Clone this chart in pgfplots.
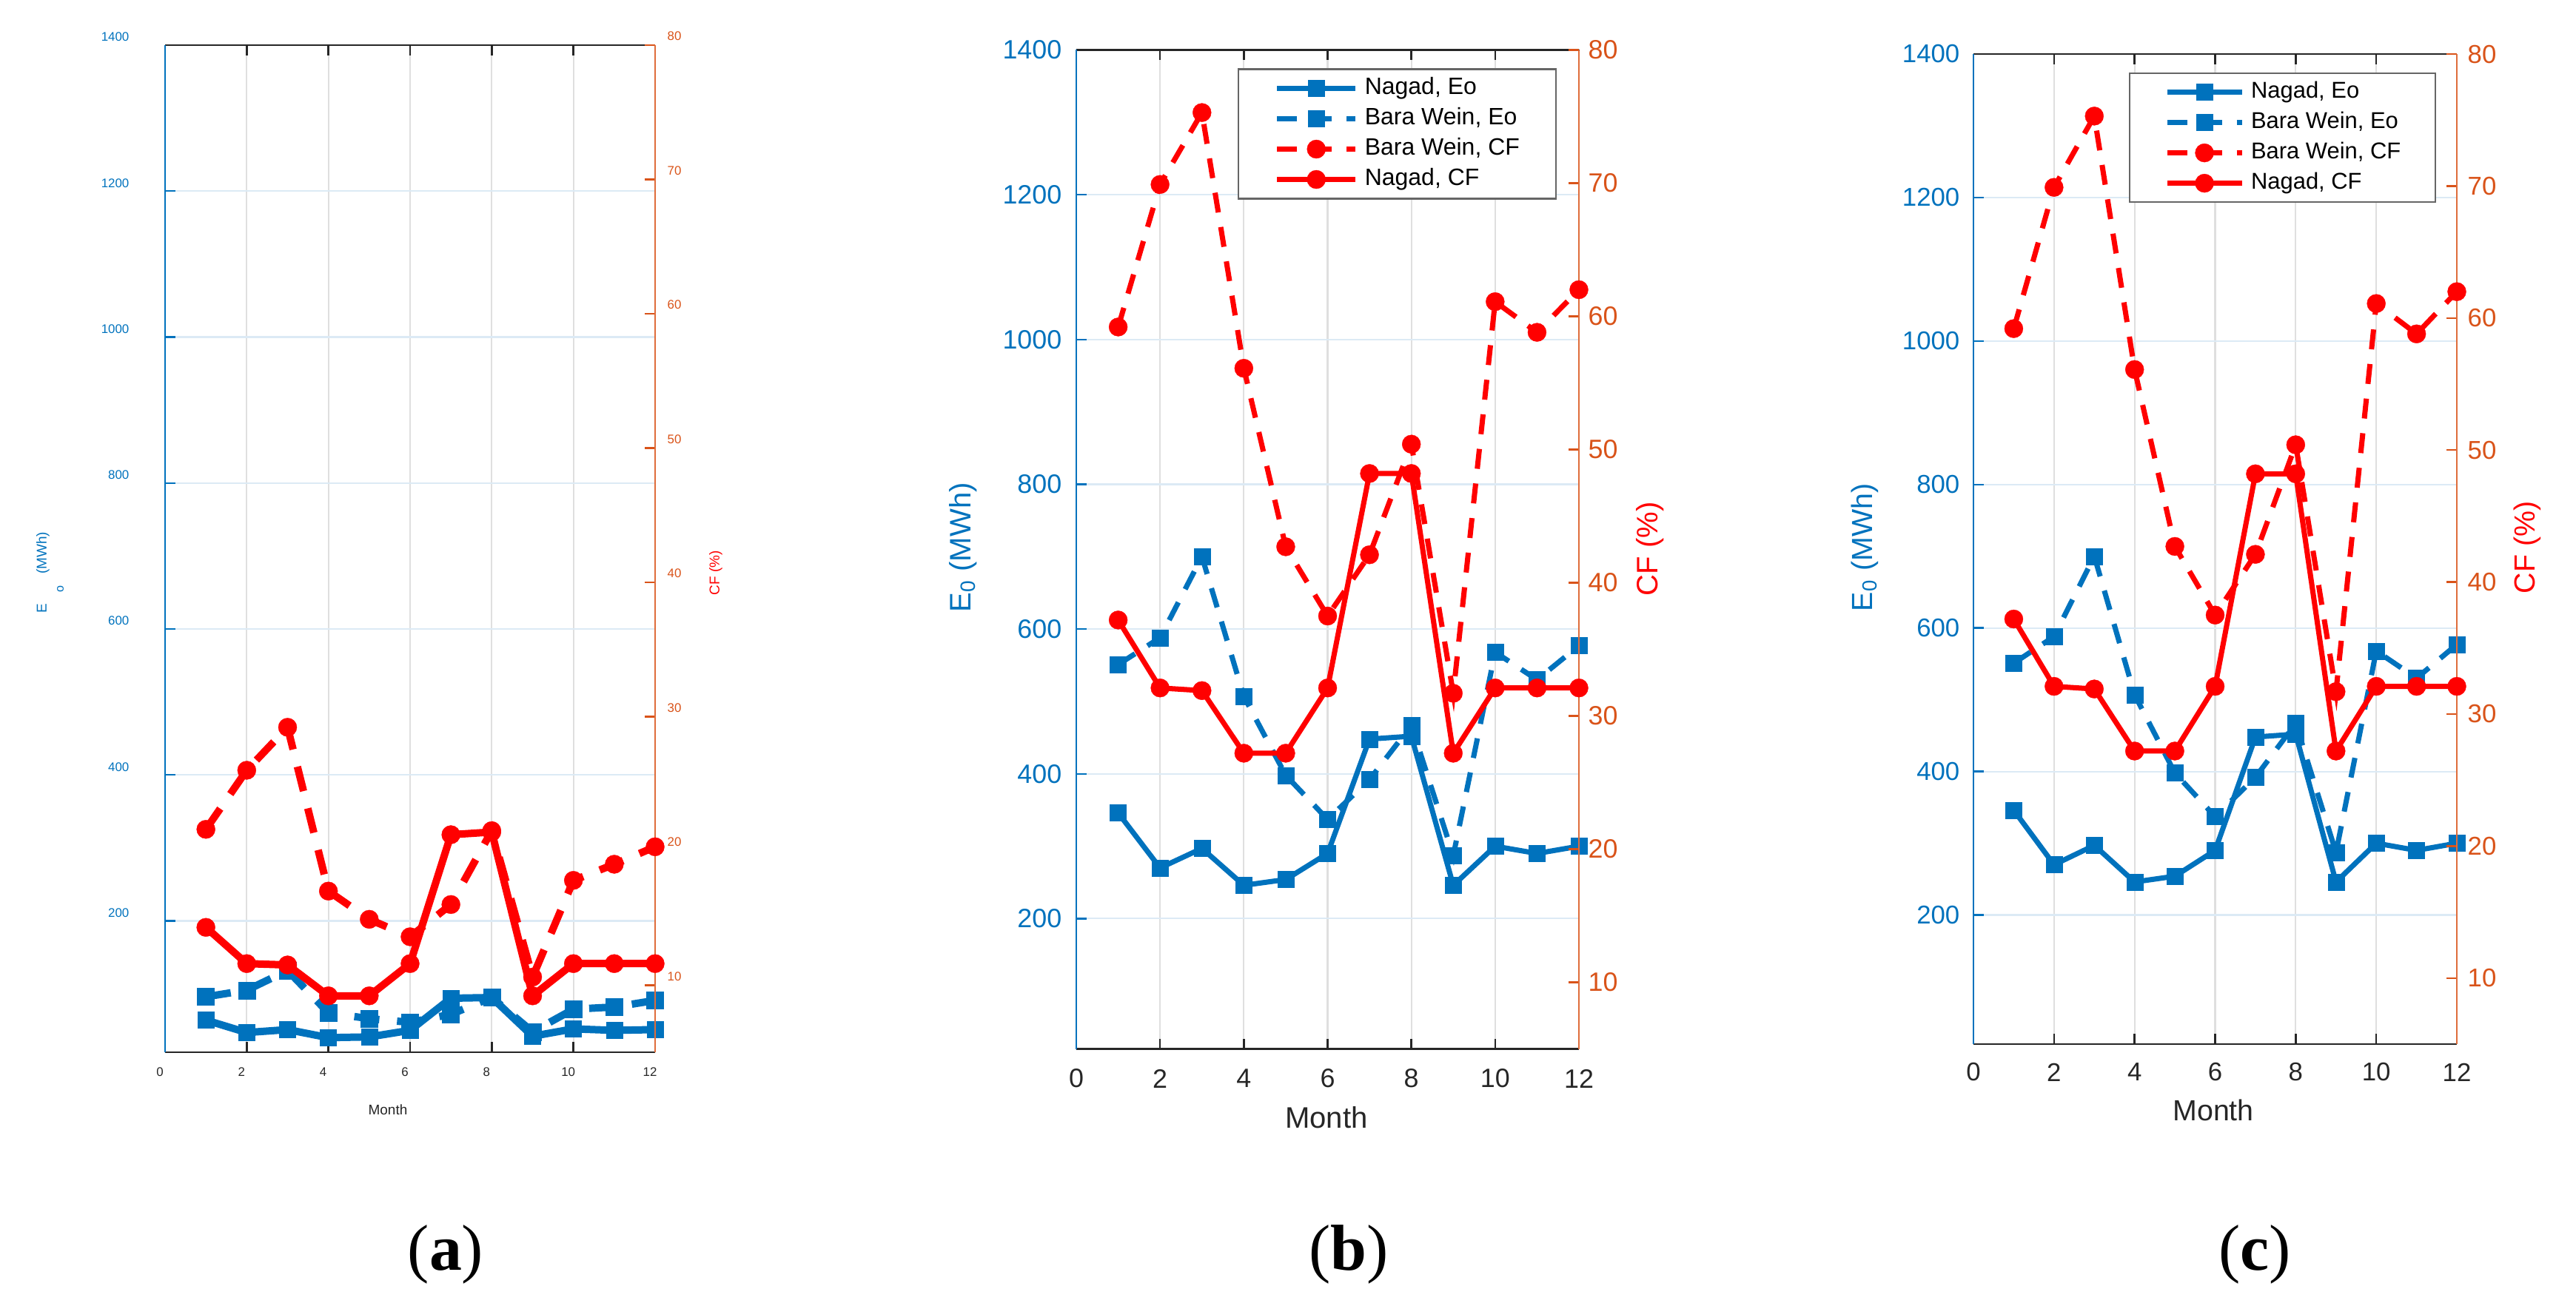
\documentclass[border=0pt]{standalone}
\usepackage{fontspec}
\setmainfont{Liberation Sans}
\newfontfamily\capfont{Liberation Serif}
\usepackage{pgfplots}
\usepackage{pgfplotstable}
\pgfplotsset{compat=1.18}

\definecolor{mblue}{HTML}{0072BD}
\definecolor{morange}{HTML}{D95319}
\definecolor{mred}{HTML}{FF0000}
\definecolor{mdark}{HTML}{262626}
\definecolor{gridgray}{HTML}{DFDFDF}
\definecolor{gridblue}{HTML}{DCEAF5}

% panel (a)
\pgfplotstableread{
m NE BE BC NC
1 64 96 21.6 14.3
2 47 105 26.0 11.6
3 51 132 29.2 11.5
4 40 74 17.0 9.2
5 41 66 14.9 9.2
6 50 61 13.6 11.6
7 94 72 16.0 21.2
8 95 95 21.5 21.4
9 42 48 10.6 9.2
10 52 79 17.8 11.6
11 50 82 19.0 11.6
12 51 91 20.3 11.6
}\dataa

% panels (b) and (c)
\pgfplotstableread{
m NE BE BC NC
1 346 551 59.2 37.2
2 270 588 69.9 32.1
3 297 700 75.3 31.9
4 246 507 56.1 27.2
5 254 398 42.7 27.2
6 290 337 37.5 32.1
7 448 392 42.1 48.2
8 452 467 50.4 48.2
9 246 287 31.7 27.2
10 300 568 61.1 32.1
11 290 530 58.8 32.1
12 300 577 62.0 32.1
}\datab

\tikzset{
 sNE/.style={mblue, solid, line width=#1, mark=square*, mark size=1.1mm, mark options={solid, line width=0.1pt}},
 sBE/.style={mblue, line width=#1, dash pattern=on 2.7mm off 2mm, mark=square*, mark size=1.1mm, mark options={solid, line width=0.1pt}},
 sBC/.style={mred, line width=#1, dash pattern=on 2.7mm off 2mm, mark=*, mark size=1.25mm, mark options={solid, line width=0.1pt}},
 sNC/.style={mred, solid, line width=#1, mark=*, mark size=1.25mm, mark options={solid, line width=0.1pt}},
 sBEa/.style={mblue, line width=#1, dash pattern=on 3.4mm off 2.4mm, mark=square*, mark size=1.15mm, mark options={solid, line width=0.1pt}},
 sBCa/.style={mred, line width=#1, dash pattern=on 3.4mm off 2.4mm, mark=*, mark size=1.25mm, mark options={solid, line width=0.1pt}},
}

\pgfplotsset{
 mybase/.style={scale only axis, anchor=south west, xmin=0, xmax=12, xtick={0,2,...,12},
   /pgf/number format/assume math mode=true,
   /pgf/number format/set thousands separator={},
   scaled y ticks=false, tick align=inside, major tick length=1.4mm,
   legend image code/.code={\draw[mark repeat=2,mark phase=2,##1] plot coordinates {(0mm,0mm)(5.3mm,0mm)(10.6mm,0mm)};}},
 leftax/.style={axis x line*=box, axis y line*=left, ymin=20, ymax=1400, ytick={200,400,...,1400},
   xmajorgrids, ymajorgrids,
   x grid style={gridgray, line width=0.6pt}, y grid style={gridblue, line width=0.6pt},
   x axis line style={mdark, line width=0.7pt}, y axis line style={mblue, line width=0.7pt},
   xtick style={mdark, line width=0.7pt}, ytick style={mblue, line width=0.7pt},
   xticklabel style={color=mdark, anchor=center, inner sep=0pt},
   yticklabel style={color=mblue, anchor=east, inner sep=0pt}},
 rightax/.style={axis x line=none, axis y line*=right, ymin=5, ymax=80, ytick={10,20,...,80},
   y axis line style={morange!85, line width=0.7pt}, ytick style={morange, line width=0.7pt},
   yticklabel style={color=morange, anchor=west, inner sep=0pt}},
}

\begin{document}
\begin{tikzpicture}
\path[use as bounding box] (0,0) rectangle (348mm,176.8mm);

% ================= panel (a) =================
\begin{axis}[mybase, leftax, at={(22.3mm,34.6mm)}, width=66.2mm, height=136.1mm,
  xticklabel style={font=\fontsize{4.8}{6}\selectfont, yshift=-2.7mm, xshift=-0.7mm},
  yticklabel style={font=\fontsize{4.8}{6}\selectfont, xshift=-4.8mm, yshift=1.1mm}]
\addplot[sNE=1.0mm] table[x=m,y=NE]{\dataa};
\addplot[sBEa=1.0mm] table[x=m,y=BE]{\dataa};
\end{axis}
\begin{axis}[mybase, rightax, at={(22.3mm,34.6mm)}, width=66.2mm, height=136.1mm,
  yticklabel style={font=\fontsize{4.8}{6}\selectfont, xshift=1.6mm, yshift=1.2mm}]
\addplot[sBCa=1.0mm] table[x=m,y=BC]{\dataa};
\addplot[sNC=1.0mm] table[x=m,y=NC]{\dataa};
\end{axis}
\node[rotate=90, anchor=base west, color=mblue, font=\fontsize{5.4}{6.5}\selectfont, inner sep=0pt]
  at (6.3mm,93.9mm) {E\hspace{1.5mm}\raisebox{-2.3mm}{\fontsize{4.6}{5}\selectfont o}\hspace{1.6mm}(MWh)};
\node[rotate=90, color=mred, font=\fontsize{5.4}{6.5}\selectfont] at (96.7mm,99.4mm) {CF (\%)};
\node[color=mdark, font=\fontsize{5.4}{6.5}\selectfont] at (52.4mm,26.8mm) {Month};

% ================= panel (b) =================
\begin{axis}[mybase, leftax, at={(145.4mm,35.05mm)}, width=67.9mm, height=135.0mm,
  xticklabel style={font=\fontsize{10.2}{12}\selectfont, yshift=-4.0mm},
  yticklabel style={font=\fontsize{10.2}{12}\selectfont, xshift=-1.9mm}]
\addplot[sNE=2pt] table[x=m,y=NE]{\datab};
\addplot[sBE=2pt] table[x=m,y=BE]{\datab};
\end{axis}
\begin{axis}[mybase, rightax, at={(145.4mm,35.05mm)}, width=67.9mm, height=135.0mm,
  yticklabel style={font=\fontsize{10.2}{12}\selectfont, xshift=1.2mm},
  legend cell align=left,
  legend style={at={(0.3206,0.9815)}, anchor=north west, draw=black!60, line width=0.6pt, fill=white,
    font=\fontsize{9.1}{10}\selectfont, inner xsep=4.9mm, inner ysep=1mm, row sep=0.9mm, column sep=0.9mm,
    nodes={inner sep=0pt, text height=2.4mm, text depth=0.8mm}}]
\addlegendimage{sNE=2pt}
\addlegendentry{Nagad, Eo}
\addlegendimage{sBE=2pt}
\addlegendentry{Bara Wein, Eo}
\addplot[sBC=2pt] table[x=m,y=BC]{\datab};
\addlegendentry{Bara Wein, CF}
\addplot[sNC=2pt] table[x=m,y=NC]{\datab};
\addlegendentry{Nagad, CF}
\end{axis}
\node[rotate=90, color=mblue, font=\fontsize{11.4}{13}\selectfont] at (130.1mm,102.8mm) {E\textsubscript{0} (MWh)};
\node[rotate=90, color=mred, font=\fontsize{11.4}{13}\selectfont] at (222.9mm,102.6mm) {CF (\%)};
\node[color=mdark, font=\fontsize{11.4}{13}\selectfont] at (179.2mm,25.8mm) {Month};

% ================= panel (c) =================
\begin{axis}[mybase, leftax, at={(266.6mm,35.7mm)}, width=65.3mm, height=133.8mm,
  xticklabel style={font=\fontsize{9.9}{12}\selectfont, yshift=-3.8mm},
  yticklabel style={font=\fontsize{9.9}{12}\selectfont, xshift=-1.8mm}]
\addplot[sNE=2pt] table[x=m,y=NE]{\datab};
\addplot[sBE=2pt] table[x=m,y=BE]{\datab};
\end{axis}
\begin{axis}[mybase, rightax, at={(266.6mm,35.7mm)}, width=65.3mm, height=133.8mm,
  yticklabel style={font=\fontsize{9.9}{12}\selectfont, xshift=1.4mm},
  legend image code/.code={\draw[mark repeat=2,mark phase=2,#1] plot coordinates {(0mm,0mm)(5.05mm,0mm)(10.1mm,0mm)};},
  legend cell align=left,
  legend style={at={(0.3216,0.9813)}, anchor=north west, draw=black!60, line width=0.6pt, fill=white,
    font=\fontsize{8.8}{10}\selectfont, inner xsep=4.7mm, inner ysep=1mm, row sep=1.0mm, column sep=0.9mm,
    nodes={inner sep=0pt, text height=2.3mm, text depth=0.8mm}}]
\addlegendimage{sNE=2pt}
\addlegendentry{Nagad, Eo}
\addlegendimage{sBE=2pt}
\addlegendentry{Bara Wein, Eo}
\addplot[sBC=2pt] table[x=m,y=BC]{\datab};
\addlegendentry{Bara Wein, CF}
\addplot[sNC=2pt] table[x=m,y=NC]{\datab};
\addlegendentry{Nagad, CF}
\end{axis}
\node[rotate=90, color=mblue, font=\fontsize{11.2}{13}\selectfont] at (251.9mm,102.8mm) {E\textsubscript{0} (MWh)};
\node[rotate=90, color=mred, font=\fontsize{11.2}{13}\selectfont] at (341.4mm,102.8mm) {CF (\%)};
\node[color=mdark, font=\fontsize{11.2}{13}\selectfont] at (299.0mm,26.8mm) {Month};

% ================= captions =================
\node[anchor=base, font=\capfont\fontsize{25}{30}\selectfont] at (60.2mm,5.2mm) {(\textbf{a})};
\node[anchor=base, font=\capfont\fontsize{25}{30}\selectfont] at (182.2mm,5.2mm) {(\textbf{b})};
\node[anchor=base, font=\capfont\fontsize{25}{30}\selectfont] at (304.6mm,5.2mm) {(\textbf{c})};
\end{tikzpicture}
\end{document}
